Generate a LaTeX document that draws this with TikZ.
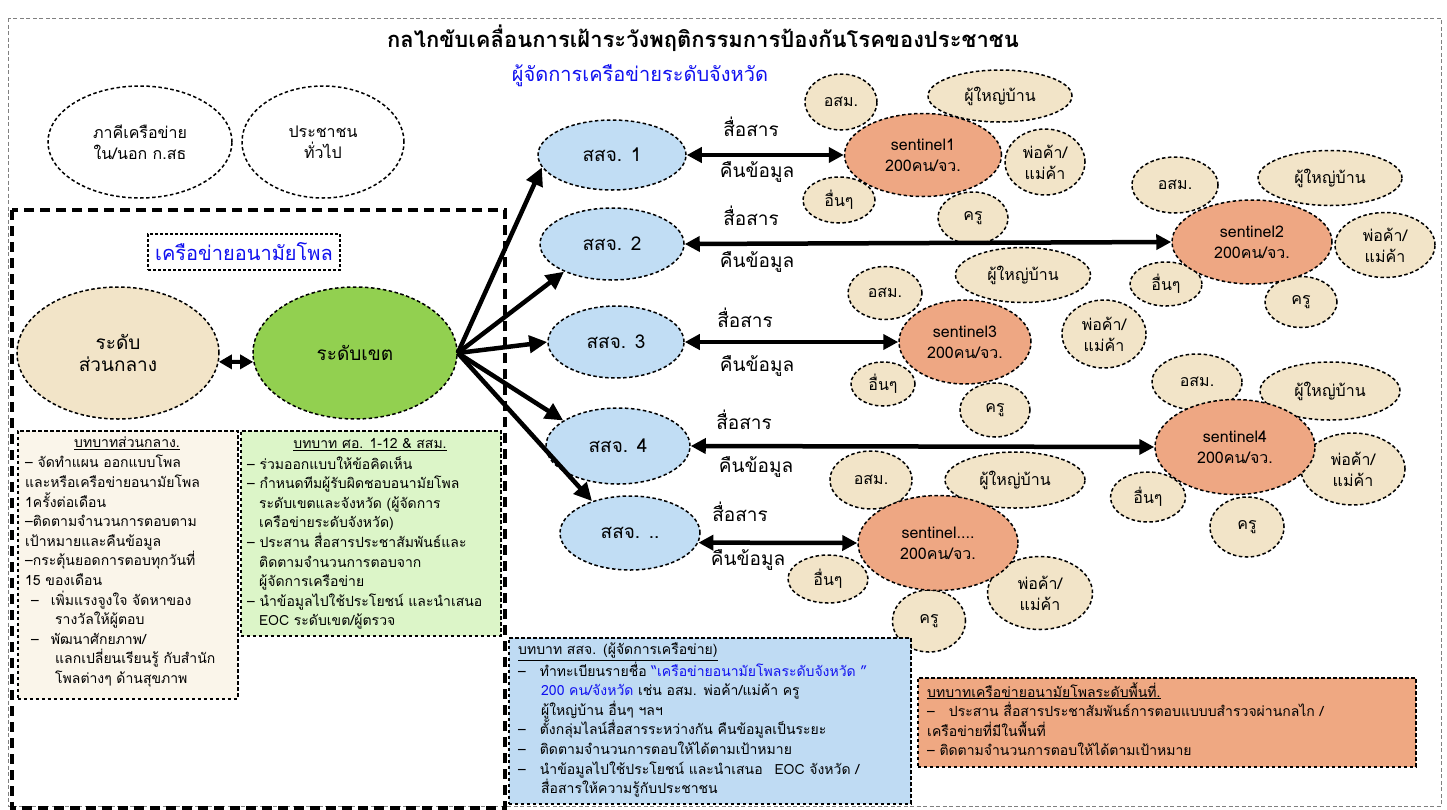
\documentclass[tikz,border=0pt]{standalone}
\usepackage{fontspec}
\setmainfont[Script=Thai]{Loma}
\usetikzlibrary{shapes.geometric,arrows.meta}
\definecolor{beigef}{HTML}{F2E4C8}
\definecolor{greenf}{HTML}{92D050}
\definecolor{bluef}{HTML}{C1DDF4}
\definecolor{salmonf}{HTML}{EEA783}
\definecolor{box1f}{HTML}{FAF5EA}
\definecolor{box2f}{HTML}{DCF5C8}
\definecolor{box3f}{HTML}{BFDBF3}
\definecolor{box4f}{HTML}{EFA882}
\definecolor{bluet}{HTML}{1010F0}
\newcommand{\myel}[7]{\node[el,#6,minimum width=#4pt,minimum height=#5pt,label={[lbl]center:{#7}}] (#1) at (#2,#3) {};}
\begin{document}
\begin{tikzpicture}[x=1pt,y=-1pt,
  dsh/.style={dash pattern=on 3.5pt off 2.5pt, line width=1.5pt},
  el/.style={ellipse, draw, dsh, inner sep=0pt},
  lbl/.style={align=center, font=\fontsize{16}{21}\selectfont, inner sep=0pt},
  sat/.style={fill=beigef},
  sen/.style={fill=salmonf},
  ssj/.style={fill=bluef},
  box/.style={draw, dsh, rectangle, inner sep=0pt, anchor=north west},
  btxt/.style={anchor=north west, align=left, inner sep=0pt, font=\fontsize{14}{19.6}\selectfont},
  ttl/.style={inner sep=0pt, font=\fontsize{14}{19.6}\selectfont},
  big/.style={font=\fontsize{19}{22}\selectfont, inner sep=0pt},
  zarr/.style={line width=4.5pt, -{Triangle[length=18pt,width=17pt]}},
  darr/.style={line width=4.5pt, {Triangle[length=15pt,width=15pt]}-{Triangle[length=15pt,width=15pt]}},
]
\useasboundingbox (0,0) rectangle (1447,809);
\fill[white] (0,0) rectangle (1447,809);
% outer border
\draw[gray, line width=0.8pt, dash pattern=on 4pt off 2.5pt] (8,18) rectangle (1441,806);
% thick dashed frame
\draw[line width=4pt, dash pattern=on 10pt off 6pt] (12,210) rectangle (505,808);

% titles
\node[inner sep=0pt, font=\bfseries\fontsize{22}{25}\selectfont] (title) at (703,38) {กลไกขับเคลื่อนการเฝ้าระวังพฤติกรรมการป้องกันโรคของประชาชน};
\node[inner sep=0pt, text=bluet, font=\fontsize{20}{24}\selectfont] (sub) at (640,76) {ผู้จัดการเครือข่ายระดับจังหวัด};

% left ellipses
\myel{pak}{140}{142}{184}{112}{fill=white}{ภาคีเครือข่าย\\ใน/นอก ก.สธ}
\myel{pub}{323}{142}{162}{112}{fill=white}{ประชาชน\\ทั่วไป}
\node[draw, dash pattern=on 3pt off 2pt, line width=1.3pt, minimum width=192pt, minimum height=36pt, text=bluet, font=\fontsize{20}{24}\selectfont, inner sep=0pt] (anpol) at (244,252) {เครือข่ายอนามัยโพล};
\node[el, sat, minimum width=202pt, minimum height=132pt, align=center, big] (central) at (118,353) {ระดับ\\ส่วนกลาง};
\node[el, fill=greenf, minimum width=204pt, minimum height=132pt, big] (zone) at (355,353) {ระดับเขต};

% SSJ ellipses
\node[el, ssj, minimum width=148pt, minimum height=70pt, big] (s1) at (612,155) {สสจ. 1};
\node[el, ssj, minimum width=144pt, minimum height=72pt, big] (s2) at (612,244) {สสจ. 2};
\node[el, ssj, minimum width=136pt, minimum height=72pt, big] (s3) at (616,342) {สสจ. 3};
\node[el, ssj, minimum width=144pt, minimum height=76pt, big] (s4) at (618,446) {สสจ. 4};
\node[el, ssj, minimum width=140pt, minimum height=74pt, big] (s5) at (630,533) {สสจ. ..};

% row 1
\myel{r1a}{841}{102}{72}{56}{sat}{อสม.}
\myel{r1b}{1000}{96}{144}{52}{sat}{ผู้ใหญ่บ้าน}
\myel{r1c}{1045}{162}{80}{66}{sat}{พ่อค้า/\\แม่ค้า}
\myel{r1d}{839}{200}{72}{46}{sat}{อื่นๆ}
\myel{r1e}{973}{218}{70}{52}{sat}{ครู}
\myel{sen1}{923}{155}{157}{83}{sen}{sentinel1\\200คน/จว.}
% row 2
\myel{r2a}{1175}{185}{86}{56}{sat}{อสม.}
\myel{r2b}{1330}{178}{144}{55}{sat}{ผู้ใหญ่บ้าน}
\myel{r2c}{1385}{245}{100}{65}{sat}{พ่อค้า/\\แม่ค้า}
\myel{r2d}{1166}{284}{72}{44}{sat}{อื่นๆ}
\myel{r2e}{1301}{302}{72}{51}{sat}{ครู}
\myel{sen2}{1252}{242}{160}{84}{sen}{sentinel2\\200คน/จว.}
% row 3
\myel{r3a}{885}{293}{74}{53}{sat}{อสม.}
\myel{r3b}{1023}{275}{135}{55}{sat}{ผู้ใหญ่บ้าน}
\myel{r3c}{1104}{334}{84}{68}{sat}{พ่อค้า/\\แม่ค้า}
\myel{r3d}{883}{384}{64}{44}{sat}{อื่นๆ}
\myel{r3e}{995}{410}{70}{54}{sat}{ครู}
\myel{sen3}{965}{342}{132}{84}{sen}{sentinel3\\200คน/จว.}
% row 4
\myel{r4a}{1197}{382}{90}{56}{sat}{อสม.}
\myel{r4b}{1330}{391}{140}{58}{sat}{ผู้ใหญ่บ้าน}
\myel{r4c}{1353}{469}{104}{72}{sat}{พ่อค้า/\\แม่ค้า}
\myel{r4d}{1148}{497}{75}{50}{sat}{อื่นๆ}
\myel{r4e}{1247}{527}{74}{60}{sat}{ครู}
\myel{sen4}{1235}{447}{160}{95}{sen}{sentinel4\\200คน/จว.}
% row 5
\myel{r5a}{871}{480}{82}{58}{sat}{อสม.}
\myel{r5b}{1015}{480}{140}{56}{sat}{ผู้ใหญ่บ้าน}
\myel{r5c}{1040}{593}{105}{73}{sat}{พ่อค้า/\\แม่ค้า}
\myel{r5d}{828}{579}{80}{48}{sat}{อื่นๆ}
\myel{r5e}{929}{621}{73}{62}{sat}{ครู}
\myel{sen5}{938}{543}{160}{95}{sen}{sentinel....\\200คน/จว.}

% communication labels
\node[big] (c1a) at (751,127) {สื่อสาร};
\node[big] (c1b) at (757,172) {คืนข้อมูล};
\node[big] (c2a) at (751,216) {สื่อสาร};
\node[big] (c2b) at (757,262) {คืนข้อมูล};
\node[big] (c3a) at (745,318) {สื่อสาร};
\node[big] (c3b) at (757,366) {คืนข้อมูล};
\node[big] (c4a) at (744,420) {สื่อสาร};
\node[big] (c4b) at (756,467) {คืนข้อมูล};
\node[big] (c5a) at (740,512) {สื่อสาร};
\node[big] (c5b) at (748,560) {คืนข้อมูล};

% role boxes
\node[box, fill=box1f, minimum width=220pt, minimum height=268pt] (b1) at (17,430) {};
\node[ttl] (b1t) at (127,443) {\underline{บทบาทส่วนกลาง.}};
\node[btxt, text width=215pt] (b1x) at (25,455) {– จัดทำแผน ออกแบบโพล\\
และหรือเครือข่ายอนามัยโพล\\
1ครั้งต่อเดือน\\
–ติดตามจำนวนการตอบตาม\\
เป้าหมายและคืนข้อมูล\\
–กระตุ้นยอดการตอบทุกวันที่\\
15 ของเดือน\\
\hspace*{6pt}–\hspace*{12pt}เพิ่มแรงจูงใจ จัดหาของ\\
\hspace*{30pt}รางวัลให้ผู้ตอบ\\
\hspace*{6pt}–\hspace*{12pt}พัฒนาศักยภาพ/\\
\hspace*{30pt}แลกเปลี่ยนเรียนรู้ กับสำนัก\\
\hspace*{30pt}โพลต่างๆ ด้านสุขภาพ};

\node[box, fill=box2f, minimum width=260pt, minimum height=205pt] (b2) at (240,430) {};
\node[ttl] (b2t) at (370,445) {\underline{บทบาท ศอ. 1-12 \& สสม.}};
\node[btxt, text width=255pt] (b2x) at (247,456) {– ร่วมออกแบบให้ข้อคิดเห็น\\
– กำหนดทีมผู้รับผิดชอบอนามัยโพล\\
\hspace*{12pt}ระดับเขตและจังหวัด (ผู้จัดการ\\
\hspace*{12pt}เครือข่ายระดับจังหวัด)\\
– ประสาน สื่อสารประชาสัมพันธ์และ\\
\hspace*{12pt}ติดตามจำนวนการตอบจาก\\
\hspace*{12pt}ผู้จัดการเครือข่าย\\
– นำข้อมูลไปใช้ประโยชน์ และนำเสนอ\\
\hspace*{12pt}EOC ระดับเขต/ผู้ตรวจ};

\node[box, fill=box3f, minimum width=402pt, minimum height=166pt] (b3) at (508,637) {};
\node[btxt, text width=395pt] (b3x) at (518,643) {\underline{บทบาท สสจ. (ผู้จัดการเครือข่าย)}\\
–\hspace*{14pt}ทำทะเบียนรายชื่อ \textcolor{bluet}{“เครือข่ายอนามัยโพลระดับจังหวัด ”}\\
\hspace*{23pt}\textcolor{bluet}{200 คน/จังหวัด} เช่น อสม. พ่อค้า/แม่ค้า ครู\\
\hspace*{23pt}ผู้ใหญ่บ้าน อื่นๆ ฯลฯ\\
–\hspace*{14pt}ตั้งกลุ่มไลน์สื่อสารระหว่างกัน คืนข้อมูลเป็นระยะ\\
–\hspace*{14pt}ติดตามจำนวนการตอบให้ได้ตามเป้าหมาย\\
–\hspace*{14pt}นำข้อมูลไปใช้ประโยชน์ และนำเสนอ\hspace*{12pt}EOC จังหวัด /\\
\hspace*{23pt}สื่อสารให้ความรู้กับประชาชน};

\node[box, fill=box4f, minimum width=498pt, minimum height=89pt] (b4) at (917,677) {};
\node[btxt, text width=490pt] (b4x) at (927,682) {\underline{บทบาทเครือข่ายอนามัยโพลระดับพื้นที่.}\\
–\hspace*{14pt}ประสาน สื่อสารประชาสัมพันธ์การตอบแบบบสำรวจผ่านกลไก  /\\
เครือข่ายที่มีในพื้นที่\\
– ติดตามจำนวนการตอบให้ได้ตามเป้าหมาย};

% connectors
\draw[line width=4pt, {Triangle[length=13pt,width=14pt]}-{Triangle[length=13pt,width=14pt]}] (central.-5) -- (zone.185);
\draw[zarr] (zone.east) -- (s1.190);
\draw[zarr] (zone.east) -- (s2.210);
\draw[zarr] (zone.east) -- (s3.west);
\draw[zarr] (zone.east) -- (s4.155);
\draw[zarr] (zone.east) -- (s5.140);
\draw[darr] (s1.east) -- (sen1.west);
\draw[darr] (s2.east) -- (sen2.west);
\draw[darr] (s3.east) -- (sen3.west);
\draw[darr] (s4.east) -- (sen4.west);
\draw[darr] (s5.-8) -- (sen5.west);
\end{tikzpicture}
\end{document}
